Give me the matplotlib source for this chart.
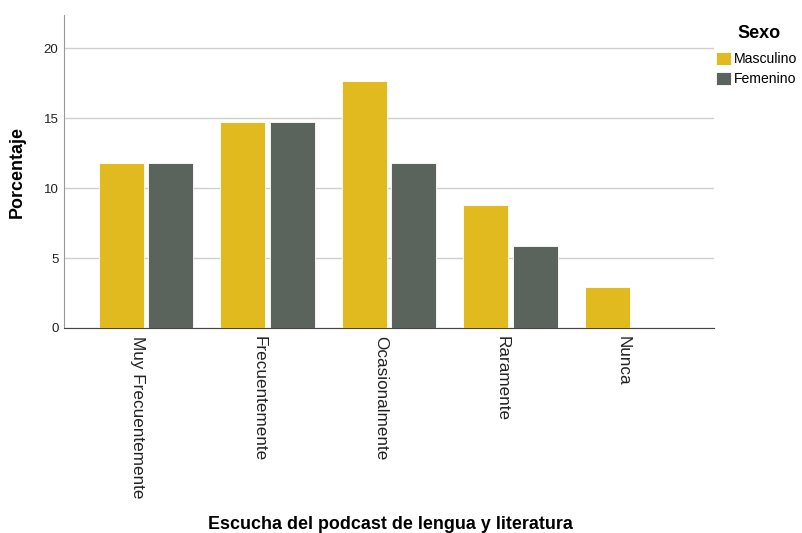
import numpy as np
import matplotlib.pyplot as plt

plt.rcParams['font.family'] = ['Liberation Sans', 'DejaVu Sans']

categorias = ["Muy Frecuentemente", "Frecuentemente", "Ocasionalmente", "Raramente", "Nunca"]
masculino = [11.76, 14.71, 17.65, 8.82, 2.94]
femenino = [11.76, 14.71, 11.76, 5.88, 0.0]
grupos = ["Masculino", "Femenino"]
yticks = [0, 5, 10, 15, 20]

col_m = "#E0BA1E"
col_f = "#5A635C"

fig = plt.figure(figsize=(8.03, 5.33), dpi=100)
ax = fig.add_axes([64 / 803, 1 - 328 / 533, 650 / 803, 313 / 533])

x = np.arange(len(categorias))
w = 0.37
ax.bar(x - 0.205, masculino, w, color=col_m, edgecolor="white", linewidth=0.6,
       label=grupos[0], zorder=3)
ax.bar(x + 0.205, femenino, w, color=col_f, edgecolor="white", linewidth=0.6,
       label=grupos[1], zorder=3)

ax.set_xlim(-0.675, 4.675)
ax.set_ylim(0, 22.36)
ax.set_yticks(yticks)
ax.yaxis.grid(True, color="#CFCFCF", linewidth=1, zorder=0)
ax.set_xticks(x - 0.07)
ax.set_xticklabels(categorias, rotation=-90, va="top", ha="center", fontsize=12.3, color="#222222")
ax.tick_params(axis="y", length=0, labelsize=9.5, colors="#222222", pad=4)
ax.tick_params(axis="x", length=0, pad=6)

for s in ["top", "right"]:
    ax.spines[s].set_visible(False)
ax.spines["left"].set_color("#999999")
ax.spines["bottom"].set_color("#444444")

ax.set_ylabel("Porcentaje", fontsize=12.9, fontweight="bold", va="center")
ax.yaxis.set_label_coords(-(64 - 17) / 650, 0.5)
ax.set_xlabel("Escucha del podcast de lengua y literatura", fontsize=12.9,
              fontweight="bold", va="top")
ax.xaxis.set_label_coords((390 - 64) / 650, -(516 - 328) / 313)

# legend title drawn separately, entries below it
fig.text(759 / 803, 1 - 33 / 533, "Sexo", fontsize=13, fontweight="bold",
         ha="center", va="center")
fig.legend(loc="upper left", bbox_to_anchor=(716 / 803, 1 - 52 / 533),
           frameon=False, fontsize=10.1, handlelength=1.05, handleheight=1.05,
           handletextpad=0.25, labelspacing=0.42, borderaxespad=0, borderpad=0)

fig.savefig("out.png", dpi=100)
